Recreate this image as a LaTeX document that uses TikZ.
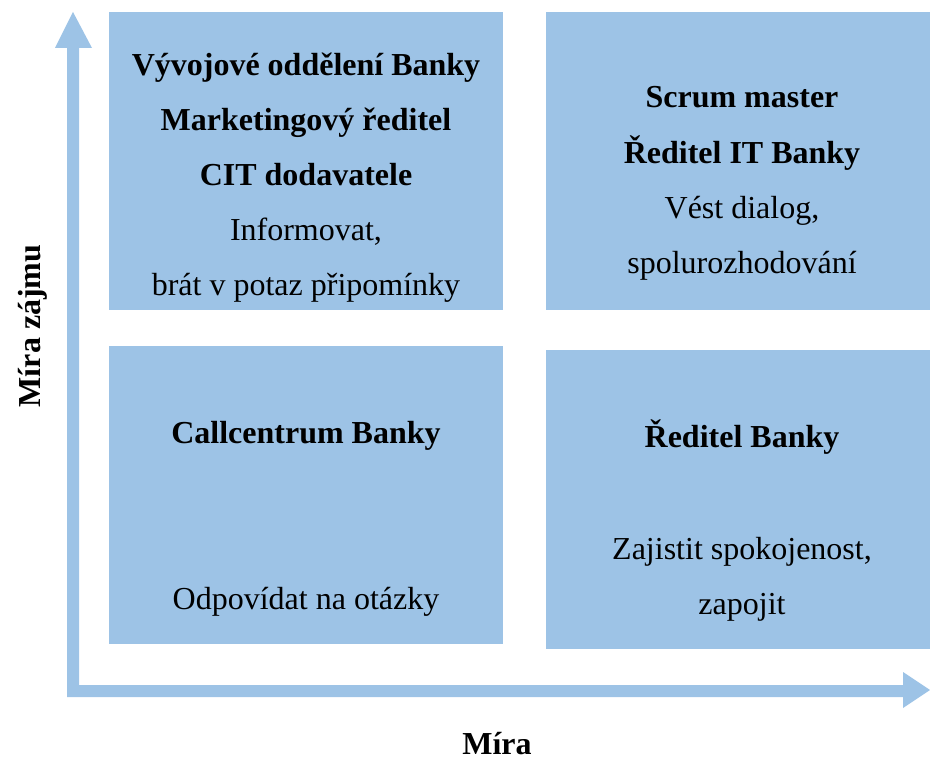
\documentclass[tikz,border=0pt]{standalone}
\usepackage{fontspec}
\setmainfont{Liberation Serif}
\definecolor{boxblue}{RGB}{157,195,230}
\begin{document}
\begin{tikzpicture}[x=1pt,y=-1pt,
  quad/.style={fill=boxblue,draw=none},
  bt/.style={anchor=base,inner sep=0pt,font=\fontsize{32}{38}\selectfont\bfseries},
  rt/.style={anchor=base,inner sep=0pt,font=\fontsize{32}{38}\selectfont},
  axis/.style={fill=boxblue,draw=none}]
\useasboundingbox (0,0) rectangle (930,762);
% quadrant boxes
\fill[quad] (109,12) rectangle (503,310);
\fill[quad] (546,12) rectangle (930,310);
\fill[quad] (109,346) rectangle (503,644);
\fill[quad] (546,350) rectangle (930,649);
% axes
\fill[axis] (67,696) -- (67,48) -- (55,48) -- (73,12) -- (92,48) -- (79,48) -- (79,696) -- cycle;
\fill[axis] (67,685) -- (903,685) -- (903,672) -- (930,690) -- (903,708) -- (903,697) -- (67,697) -- cycle;
% top-left
\node[bt] (a1) at (306,76) {Vývojové oddělení Banky};
\node[bt] (a2) at (306,131) {Marketingový ředitel};
\node[bt] (a3) at (306,186) {CIT dodavatele};
\node[rt] (a4) at (306,241) {Informovat,};
\node[rt] (a5) at (306,296) {brát v potaz připomínky};
% top-right
\node[bt] (b1) at (742,108) {Scrum master};
\node[bt] (b2) at (742,164) {Ředitel IT Banky};
\node[rt] (b3) at (742,219) {Vést dialog,};
\node[rt] (b4) at (742,274) {spolurozhodování};
% bottom-left
\node[bt] (c1) at (306,443) {Callcentrum Banky};
\node[rt] (c2) at (306,609) {Odpovídat na otázky};
% bottom-right
\node[bt] (d1) at (742,447) {Ředitel Banky};
\node[rt] (d2) at (742,559) {Zajistit spokojenost,};
\node[rt] (d3) at (742,614) {zapojit};
% axis labels
\node[bt] (xl) at (497,754) {Míra};
\node[bt,rotate=90] (yl) at (40,326) {Míra zájmu};
\end{tikzpicture}
\end{document}
